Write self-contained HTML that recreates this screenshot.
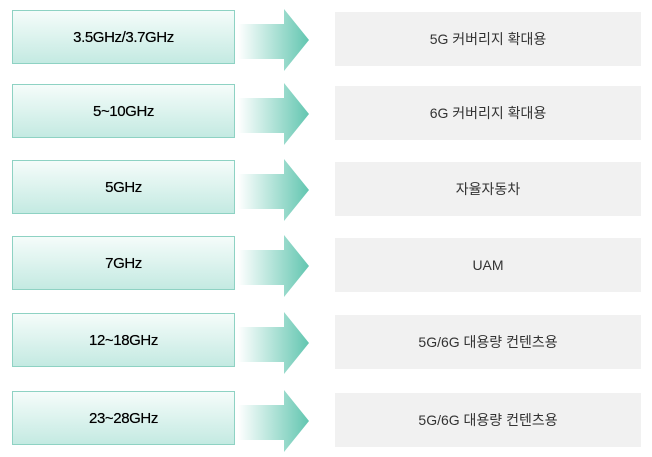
<!DOCTYPE html>
<html><head><meta charset="utf-8"><style>
body{margin:0;width:652px;height:457px;background:#fff;position:relative;overflow:hidden;font-family:"Liberation Sans","Noto Sans CJK KR",sans-serif}
.l{position:absolute;left:12px;width:221px;height:52px;border:1px solid #8ed2c3;background:linear-gradient(#f5fcfa,#c4eae2);display:flex;align-items:center;justify-content:center;font-size:15px;color:#000;letter-spacing:-0.4px;text-shadow:0 0 0.4px #000}
.r{position:absolute;left:335px;width:306px;height:54px;background:#f1f1f1;display:flex;align-items:center;justify-content:center;font-size:14px;color:#333}
svg{position:absolute;left:236px}
</style></head><body>
<svg width="0" height="0" style="position:absolute"><defs><linearGradient id="g" x1="0" x2="1"><stop offset="0" stop-color="#fff"/><stop offset="1" stop-color="#62c6b0"/></linearGradient></defs></svg>

<div class="l" style="top:10px">3.5GHz/3.7GHz</div>
<svg style="top:9px" width="75" height="63"><polygon points="2,15 48,15 48,0 73,31 48,62 48,50 2,50" fill="url(#g)"/></svg>
<div class="r" style="top:12px">5G 커버리지 확대용</div>

<div class="l" style="top:84px">5~10GHz</div>
<svg style="top:83px" width="75" height="63"><polygon points="2,15 48,15 48,0 73,31 48,62 48,50 2,50" fill="url(#g)"/></svg>
<div class="r" style="top:86px">6G 커버리지 확대용</div>

<div class="l" style="top:160px">5GHz</div>
<svg style="top:159px" width="75" height="63"><polygon points="2,15 48,15 48,0 73,31 48,62 48,50 2,50" fill="url(#g)"/></svg>
<div class="r" style="top:162px">자율자동차</div>

<div class="l" style="top:236px">7GHz</div>
<svg style="top:235px" width="75" height="63"><polygon points="2,15 48,15 48,0 73,31 48,62 48,50 2,50" fill="url(#g)"/></svg>
<div class="r" style="top:238px">UAM</div>

<div class="l" style="top:313px">12~18GHz</div>
<svg style="top:312px" width="75" height="63"><polygon points="2,15 48,15 48,0 73,31 48,62 48,50 2,50" fill="url(#g)"/></svg>
<div class="r" style="top:315px">5G/6G 대용량 컨텐츠용</div>

<div class="l" style="top:391px">23~28GHz</div>
<svg style="top:390px" width="75" height="63"><polygon points="2,15 48,15 48,0 73,31 48,62 48,50 2,50" fill="url(#g)"/></svg>
<div class="r" style="top:393px">5G/6G 대용량 컨텐츠용</div>
</body></html>
